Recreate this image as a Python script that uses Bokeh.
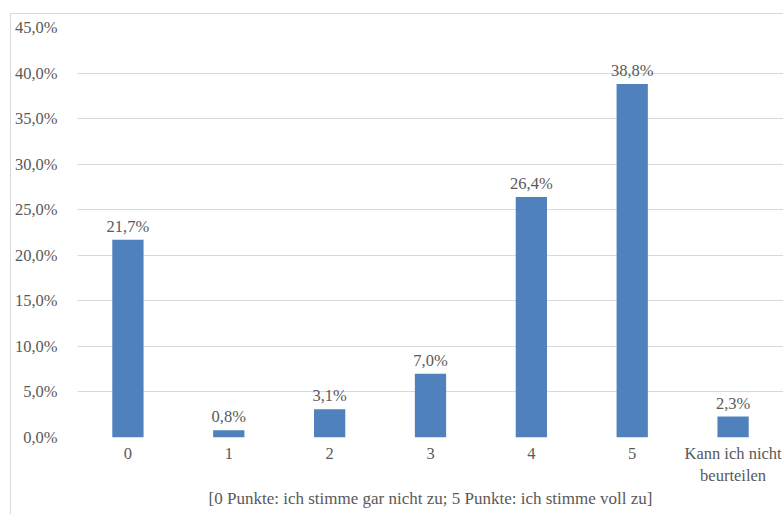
from bokeh.plotting import figure
from bokeh.models import ColumnDataSource, FixedTicker, Range1d, FactorRange
from bokeh.core.properties import value
from bokeh.embed import file_html
from bokeh.resources import INLINE

categories = ["0", "1", "2", "3", "4", "5", "Kann ich nicht\nbeurteilen"]
values = [21.7, 0.8, 3.1, 7.0, 26.4, 38.8, 2.3]
value_labels = ["21,7%", "0,8%", "3,1%", "7,0%", "26,4%", "38,8%", "2,3%"]
y_ticks = [0, 5, 10, 15, 20, 25, 30, 35, 40, 45]
y_tick_labels = ["0,0%", "5,0%", "10,0%", "15,0%", "20,0%", "25,0%", "30,0%", "35,0%", "40,0%", "45,0%"]
x_title = "[0 Punkte: ich stimme gar nicht zu; 5 Punkte: ich stimme voll zu]"

FONT = "Liberation Serif"
TXT = "#595959"
GRID = "#d9d9d9"

src = ColumnDataSource(dict(cat=categories, val=values, lab=value_labels))

p = figure(
    width=773, height=501,
    x_range=FactorRange(*categories, range_padding=0),
    y_range=Range1d(0, 45),
    output_backend="svg", toolbar_location=None,
    min_border_left=65, min_border_right=1, min_border_top=13, min_border_bottom=78,
)
p.margin = (13, 0, 0, 10)
p.styles = {"border-left": "1px solid #d9d9d9", "border-top": "1px solid #d9d9d9"}
p.outline_line_color = None
p.background_fill_color = "white"
p.border_fill_color = "white"

p.vbar(x="cat", top="val", width=0.31, source=src, fill_color="#4F81BD", line_color=None)
p.text(x="cat", y="val", text="lab", source=src, text_align="center", text_baseline="bottom",
       y_offset=-4, text_font=value(FONT), text_font_size="16.5px", text_color=TXT)

p.yaxis.ticker = FixedTicker(ticks=y_ticks)
p.yaxis.major_label_overrides = {t: l for t, l in zip(y_ticks, y_tick_labels)}
p.ygrid.ticker = FixedTicker(ticks=y_ticks)
p.ygrid.grid_line_color = GRID
p.xgrid.grid_line_color = None

for ax in (p.xaxis, p.yaxis):
    ax.axis_line_color = None
    ax.major_tick_line_color = None
    ax.minor_tick_line_color = None
    ax.major_label_text_font = FONT
    ax.major_label_text_font_size = "16.5px"
    ax.major_label_text_color = TXT
p.yaxis.major_label_standoff = 14
p.xaxis.major_label_standoff = 0
p.xaxis.axis_label = x_title
p.xaxis.axis_label_text_font = FONT
p.xaxis.axis_label_text_font_size = "17px"
p.xaxis.axis_label_text_font_style = "normal"
p.xaxis.axis_label_text_color = TXT
p.xaxis.axis_label_standoff = 1

open("out.html", "w").write(file_html(p, INLINE))
